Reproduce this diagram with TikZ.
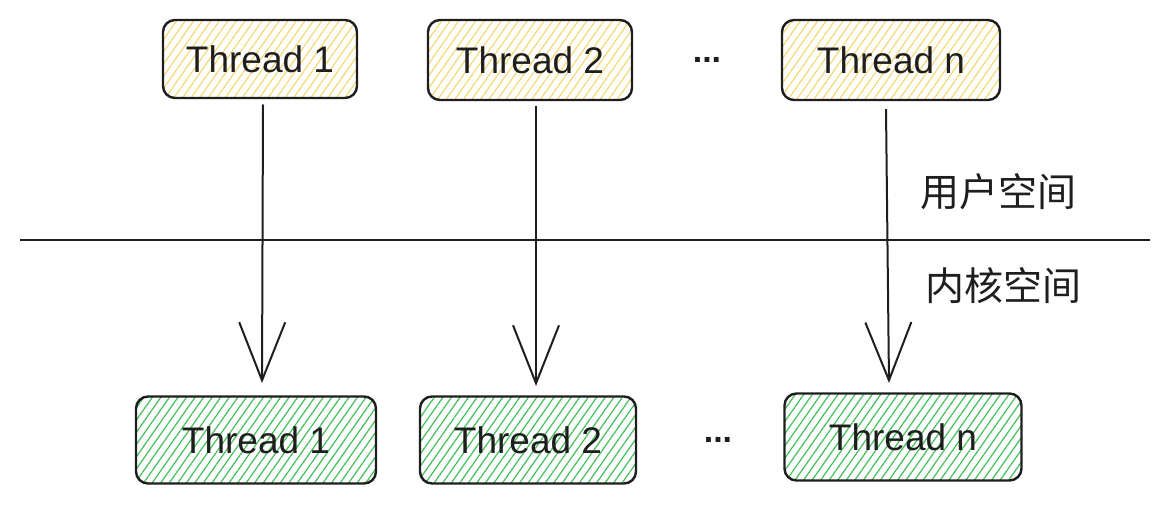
\documentclass[tikz,border=0pt]{standalone}
\usepackage{fontspec}
\setmainfont{Liberation Sans}
\newfontfamily\cjk{Noto Sans CJK SC}
\usetikzlibrary{arrows.meta,patterns.meta}
\definecolor{hatchyellow}{HTML}{F5D260}
\definecolor{hatchgreen}{HTML}{40C057}
\definecolor{inkc}{HTML}{1E1E1E}
\tikzset{
  thbox/.style={draw=inkc, line width=2.4pt, rounded corners=12pt, inner sep=0pt,
    font=\fontsize{37}{40}\selectfont, text=inkc},
  userbox/.style={thbox, pattern={Lines[angle=55,distance=7pt,line width=1pt]}, pattern color=hatchyellow},
  kernbox/.style={thbox, pattern={Lines[angle=55,distance=7pt,line width=1.2pt]}, pattern color=hatchgreen},
  callarrow/.style={draw=inkc, line width=2pt, -{Straight Barb[length=58pt,width=46pt,line width=2pt]}},
  dots/.style={font=\bfseries\fontsize{34}{36}\selectfont, text=inkc},
  zone/.style={font=\cjk\fontsize{39}{42}\selectfont, text=inkc}
}
\begin{document}
\begin{tikzpicture}[x=1pt,y=-1pt]
\useasboundingbox (0,0) rectangle (1169,505);
% user threads
\node[userbox, minimum width=194pt, minimum height=78pt] (u1) at (260,59) {Thread 1};
\node[userbox, minimum width=204pt, minimum height=80pt] (u2) at (530,60) {Thread 2};
\node[userbox, minimum width=218pt, minimum height=80pt] (un) at (891,60) {Thread n};
\node[dots] (ud) at (707,60) {...};
% kernel threads
\node[kernbox, minimum width=240pt, minimum height=87pt] (k1) at (256,440) {Thread 1};
\node[kernbox, minimum width=216pt, minimum height=87pt] (k2) at (528,440) {Thread 2};
\node[kernbox, minimum width=237pt, minimum height=87pt] (kn) at (903,437) {Thread n};
\node[dots] (kd) at (718,440) {...};
% separator
\coordinate (sl) at (20,240);
\coordinate (sr) at (1150,240);
\draw[draw=inkc, line width=2pt] (sl) -- (sr);
\node[zone] (user) at (998,192) {用户空间};
\node[zone] (kern) at (1003,286) {内核空间};
% arrows
\coordinate (a1) at (262,383);
\coordinate (a2) at (536,386);
\coordinate (an) at (889,383);
\draw[callarrow] ([yshift=-6pt]u1.south -| 263,0) -- (a1);
\draw[callarrow] ([yshift=-5pt]u2.south -| 536,0) -- (a2);
\draw[callarrow] ([yshift=-8pt]un.south -| 886,0) -- (an);
\end{tikzpicture}
\end{document}
